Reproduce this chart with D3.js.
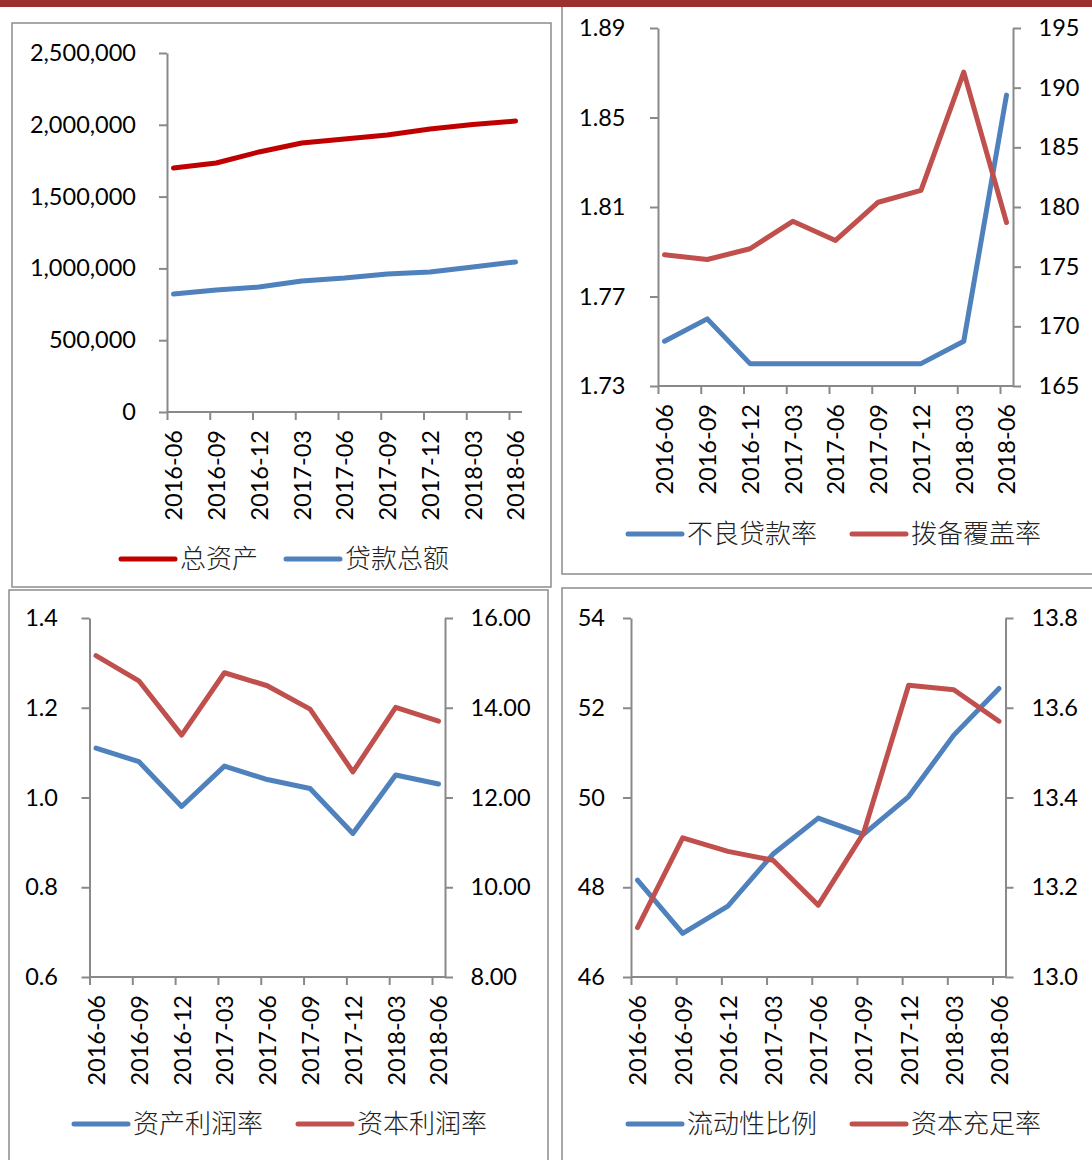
<!DOCTYPE html>
<html>
<head>
<meta charset="utf-8">
<script src="https://cdn.jsdelivr.net/npm/d3@7"></script>
<style>
  body { margin: 0; background: #fff; }
  svg { display: block; }
</style>
</head>
<body>
<div id="chart"></div>
<script>
const width = 1092;
const height = 1160;

// categories
const quarters = ["2016-06", "2016-09", "2016-12", "2017-03", "2017-06", "2017-09", "2017-12", "2018-03", "2018-06"];

// panel 1: 总资产 / 贷款总额
const totalAssets = [1699000, 1734000, 1811000, 1873000, 1901000, 1929000, 1971000, 2002000, 2026000];
const totalLoans = [822000, 850000, 870000, 912000, 933000, 961000, 975000, 1010000, 1045000];
const assetTicks = [0, 500000, 1000000, 1500000, 2000000, 2500000];

// panel 2: 不良贷款率 / 拨备覆盖率
const nplRatio = [1.75, 1.76, 1.74, 1.74, 1.74, 1.74, 1.74, 1.75, 1.86];
const provisionCoverage = [176.0, 175.6, 176.5, 178.8, 177.2, 180.4, 181.4, 191.3, 178.7];
const nplTicks = [1.73, 1.77, 1.81, 1.85, 1.89];
const coverageTicks = [165, 170, 175, 180, 185, 190, 195];

// panel 3: 资产利润率 / 资本利润率
const roa = [1.11, 1.08, 0.98, 1.07, 1.04, 1.02, 0.92, 1.05, 1.03];
const roe = [15.16, 14.60, 13.39, 14.78, 14.49, 13.97, 12.57, 14.01, 13.70];
const roaTicks = [0.6, 0.8, 1.0, 1.2, 1.4];
const roeTicks = [8, 10, 12, 14, 16];

// panel 4: 流动性比例 / 资本充足率
const liquidityRatio = [48.16, 46.97, 47.58, 48.74, 49.54, 49.18, 50.02, 51.39, 52.43];
const capitalAdequacy = [13.11, 13.31, 13.28, 13.26, 13.16, 13.32, 13.65, 13.64, 13.57];
const liqTicks = [46, 48, 50, 52, 54];
const carTicks = [13.0, 13.2, 13.4, 13.6, 13.8];

const BLUE = "#4F81BD";
const RED = "#C0504D";
const DARKRED = "#C00000";
const GREY = "#898989";
const numFont = "Lato, 'Liberation Sans', Arial, sans-serif";
const cjkFont = "'Noto Sans CJK SC', 'Noto Sans', sans-serif";

const svg = d3.select("#chart")
    .append("svg")
        .attr("width", width)
        .attr("height", height)
        .attr("viewBox", [0, 0, width, height]);

// panel frames
const frames = [
    [12, 23, 539, 564],
    [562, 3, 540, 571],
    [9, 590, 539, 580],
    [562, 588, 540, 582]
];
svg.append("g").selectAll("rect")
    .data(frames)
    .enter().append("rect")
        .attr("x", d => d[0])
        .attr("y", d => d[1])
        .attr("width", d => d[2])
        .attr("height", d => d[3])
        .attr("fill", "none")
        .attr("stroke", "#8c8c8c")
        .attr("stroke-width", 1.5);

function drawPanel(p) {
    const g = svg.append("g");

    const x = d3.scalePoint().domain(quarters).range([p.xa + 6.5, p.xb - 6.5]);
    const xTick = d3.scalePoint().domain(quarters).range([p.xa, p.xb - 13]);
    const yL = d3.scaleLinear().domain(d3.extent(p.leftTicks)).range([p.yb, p.yt]);
    const yR = p.rightTicks ? d3.scaleLinear().domain(d3.extent(p.rightTicks)).range([p.yb, p.yt]) : yL;

    // category axis
    g.append("line")
        .attr("x1", p.xa).attr("x2", p.xb)
        .attr("y1", p.yb).attr("y2", p.yb)
        .attr("stroke", GREY).attr("stroke-width", 2);

    const xAxis = g.append("g")
        .attr("transform", `translate(0,${p.yb})`)
        .call(d3.axisBottom(xTick).tickSize(8).tickSizeOuter(0));
    xAxis.select(".domain").remove();
    xAxis.selectAll("line").attr("stroke", GREY).attr("stroke-width", 2);
    xAxis.selectAll("text")
        .attr("transform", "rotate(-90)")
        .attr("text-anchor", "end")
        .attr("x", -18)
        .attr("y", 6.5)
        .attr("dy", "0.36em")
        .attr("fill", "#000")
        .style("font-family", numFont)
        .style("font-size", "23.5px");

    // value axes
    const left = g.append("g")
        .attr("transform", `translate(${p.xa},0)`)
        .call(d3.axisLeft(yL).tickValues(p.leftTicks).tickSize(8).tickSizeOuter(0)
            .tickPadding(p.lPad).tickFormat(p.lFmt));
    left.selectAll("path, line").attr("stroke", GREY).attr("stroke-width", 2);
    left.selectAll("text").attr("fill", "#000")
        .style("font-family", numFont).style("font-size", "23.5px");

    if (p.rightTicks) {
        const right = g.append("g")
            .attr("transform", `translate(${p.xb},0)`)
            .call(d3.axisRight(yR).tickValues(p.rightTicks).tickSize(8).tickSizeOuter(0)
                .tickPadding(p.rPad).tickFormat(p.rFmt));
        right.selectAll("path, line").attr("stroke", GREY).attr("stroke-width", 2);
        right.selectAll("text").attr("fill", "#000")
            .style("font-family", numFont).style("font-size", "23.5px");
    }

    // series
    p.series.forEach(s => {
        const y = s.axis === "right" ? yR : yL;
        const line = d3.line()
            .x((d, i) => x(quarters[i]))
            .y(d => y(d));
        g.append("path")
            .datum(s.values)
            .attr("d", line)
            .attr("fill", "none")
            .attr("stroke", s.color)
            .attr("stroke-width", 5)
            .attr("stroke-linecap", "round")
            .attr("stroke-linejoin", "round");
    });

    // legend
    const leg = g.append("g").selectAll(".leg")
        .data(p.series)
        .enter().append("g")
            .attr("class", "leg")
            .attr("transform", (d, i) => `translate(${p.legend[i]},${p.legendY})`);
    leg.append("line")
        .attr("x1", 0).attr("x2", 54)
        .attr("stroke", d => d.color)
        .attr("stroke-width", 5)
        .attr("stroke-linecap", "round");
    leg.append("text")
        .attr("x", 59)
        .attr("y", 9)
        .text(d => d.name)
        .style("font-family", cjkFont)
        .style("font-weight", 300)
        .style("font-size", "26px")
        .attr("fill", "#222");
}

drawPanel({
    xa: 167, xb: 522, yt: 53, yb: 412,
    leftTicks: assetTicks, lFmt: d3.format(","), lPad: 23,
    series: [
        { name: "总资产", values: totalAssets, color: DARKRED },
        { name: "贷款总额", values: totalLoans, color: BLUE }
    ],
    legend: [121, 286], legendY: 559
});

drawPanel({
    xa: 658, xb: 1013, yt: 28, yb: 386,
    leftTicks: nplTicks, lFmt: d3.format(".2f"), lPad: 24.5,
    rightTicks: coverageTicks, rFmt: d3.format("d"), rPad: 17.5,
    series: [
        { name: "不良贷款率", values: nplRatio, color: BLUE },
        { name: "拨备覆盖率", values: provisionCoverage, color: RED, axis: "right" }
    ],
    legend: [628, 852], legendY: 534
});

drawPanel({
    xa: 89.5, xb: 445, yt: 618, yb: 977,
    leftTicks: roaTicks, lFmt: d3.format(".1f"), lPad: 23.5,
    rightTicks: roeTicks, rFmt: d3.format(".2f"), rPad: 17.5,
    series: [
        { name: "资产利润率", values: roa, color: BLUE },
        { name: "资本利润率", values: roe, color: RED, axis: "right" }
    ],
    legend: [74, 298], legendY: 1124
});

drawPanel({
    xa: 631, xb: 1005.5, yt: 618, yb: 977,
    leftTicks: liqTicks, lFmt: d3.format("d"), lPad: 18,
    rightTicks: carTicks, rFmt: d3.format(".1f"), rPad: 18,
    series: [
        { name: "流动性比例", values: liquidityRatio, color: BLUE },
        { name: "资本充足率", values: capitalAdequacy, color: RED, axis: "right" }
    ],
    legend: [628, 852], legendY: 1124
});

// top banner
svg.append("rect")
    .attr("x", 0).attr("y", 0)
    .attr("width", width).attr("height", 7)
    .attr("fill", "#9B302D");
</script>
</body>
</html>
